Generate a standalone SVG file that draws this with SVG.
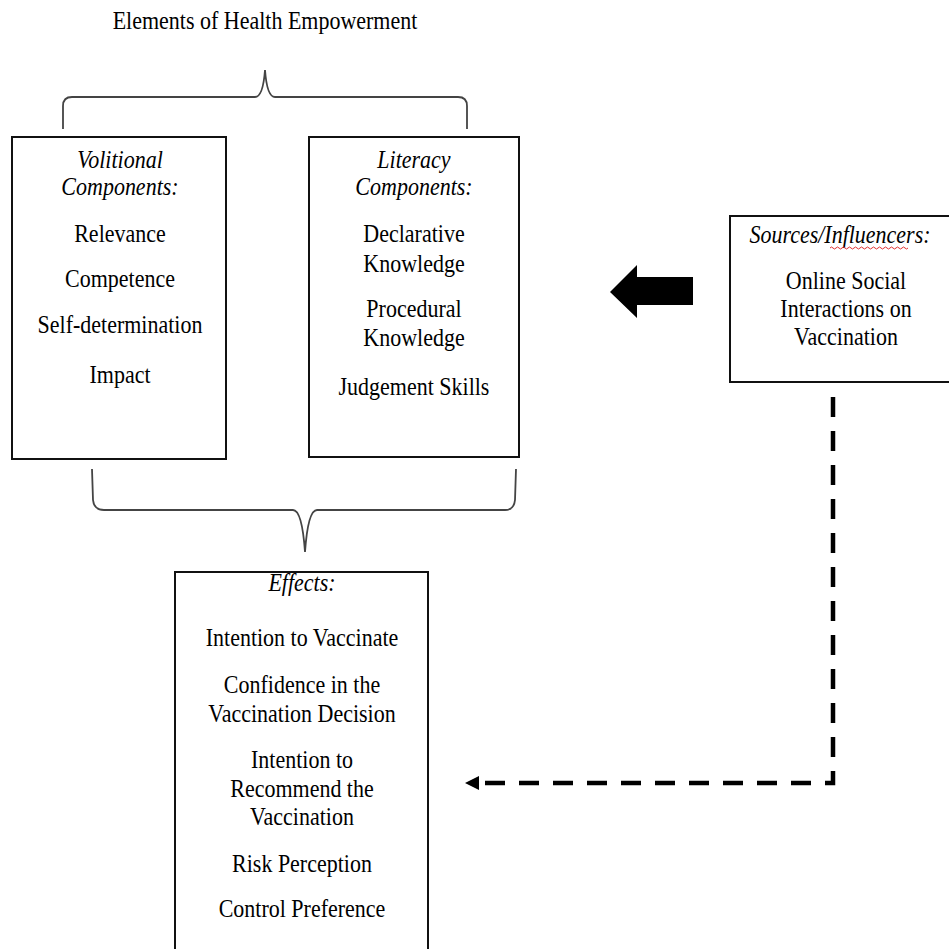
<svg xmlns="http://www.w3.org/2000/svg" width="949" height="949" viewBox="0 0 949 949">
<style>
.t{font-family:"Liberation Serif","Times New Roman",serif;font-size:22px;fill:#000;text-anchor:middle;transform-box:fill-box;transform-origin:50% 80.5%;transform:scaleY(1.12)}
.i{font-style:italic}
.box{fill:#fff;stroke:#111;stroke-width:2}
.brace{fill:none;stroke:#444;stroke-width:1.8}
.dash{fill:none;stroke:#000;stroke-width:4.5;stroke-dasharray:20 14}
</style>
<defs>
<marker id="ah" markerWidth="14" markerHeight="14" refX="0" refY="7" orient="auto" markerUnits="userSpaceOnUse">
<path d="M0,0 L14,7 L0,14 Z" fill="#000"/>
</marker>
</defs>
<rect width="949" height="949" fill="#fff"/>
<text class="t" x="265" y="29">Elements of Health Empowerment</text>
<g id="braces">
<path class="brace" d="M63,129 L63,106 Q63,97 72,97 L255,97 Q263,97 265,70 Q267,97 275,97 L458,97 Q467,97 467,106 L467,129"/>
<path class="brace" d="M92,469 L93,500 Q94,510 104,510 L293,510 Q302,510 305,552 Q308,510 317,510 L505,510 Q514,510 515,500 L516,469"/>
</g>
<g id="volitional">
<rect class="box" x="12" y="137" width="214" height="322"/>
<text class="t i" x="120" y="168">Volitional</text>
<text class="t i" x="120" y="195">Components:</text>
<text class="t" x="120" y="242">Relevance</text>
<text class="t" x="120" y="287">Competence</text>
<text class="t" x="120" y="333">Self-determination</text>
<text class="t" x="120" y="383">Impact</text>
</g>
<g id="literacy">
<rect class="box" x="309" y="137" width="210" height="320"/>
<text class="t i" x="414" y="168">Literacy</text>
<text class="t i" x="414" y="195">Components:</text>
<text class="t" x="414" y="242">Declarative</text>
<text class="t" x="414" y="272">Knowledge</text>
<text class="t" x="414" y="317">Procedural</text>
<text class="t" x="414" y="346">Knowledge</text>
<text class="t" x="414" y="395">Judgement Skills</text>
</g>
<g id="sources">
<rect class="box" x="730" y="216" width="230" height="166"/>
<text class="t i" x="840" y="243">Sources/Influencers:</text>
<path d="M830,248 q1.5,-2 3,0 t3,0 t3,0 t3,0 t3,0 t3,0 t3,0 t3,0 t3,0 t3,0 t3,0 t3,0 t3,0 t3,0 t3,0 t3,0 t3,0 t3,0 t3,0 t3,0 t3,0 t3,0 t3,0 t3,0 t3,0 t3,0" fill="none" stroke="#e03030" stroke-width="1"/>
<text class="t" x="846" y="289">Online Social</text>
<text class="t" x="846" y="317">Interactions on</text>
<text class="t" x="846" y="345">Vaccination</text>
</g>
<g id="effects">
<rect class="box" x="175" y="572" width="253" height="400"/>
<text class="t i" x="302" y="591">Effects:</text>
<text class="t" x="302" y="646">Intention to Vaccinate</text>
<text class="t" x="302" y="693">Confidence in the</text>
<text class="t" x="302" y="722">Vaccination Decision</text>
<text class="t" x="302" y="768">Intention to</text>
<text class="t" x="302" y="797">Recommend the</text>
<text class="t" x="302" y="825">Vaccination</text>
<text class="t" x="302" y="872">Risk Perception</text>
<text class="t" x="302" y="917">Control Preference</text>
</g>
<g id="connectors">
<path d="M693,277 L637,277 L637,265 L610,292 L637,318 L637,305 L693,305 Z" fill="#000"/>
<path class="dash" d="M833,397 L833,783 L479,783" marker-end="url(#ah)"/>
</g>
</svg>
